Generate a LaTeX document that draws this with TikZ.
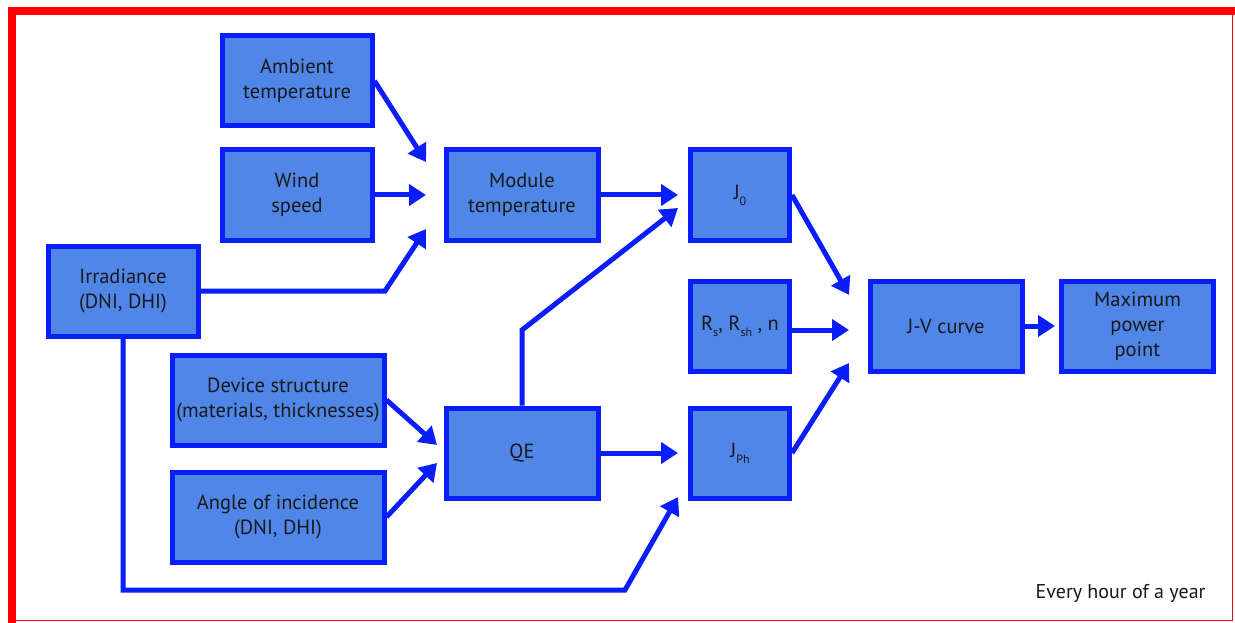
\documentclass[tikz,border=0pt]{standalone}
\usepackage{fontspec}
\setmainfont{PT Sans}
\usetikzlibrary{arrows.meta}
\definecolor{boxfill}{HTML}{4F86E8}
\definecolor{boxline}{HTML}{0A1EFA}
\definecolor{framered}{HTML}{FF0000}
\newcommand\sbs[1]{\raisebox{-0.6ex}{\fontsize{12}{12}\selectfont #1}}
\begin{document}
\begin{tikzpicture}[x=1pt,y=-1pt,
  box/.style={draw=boxline, fill=boxfill, line width=5pt, minimum height=90pt,
    align=center, inner sep=2pt, text=black!90, font=\fontsize{20.5}{25}\selectfont},
  arr/.style={draw=boxline, line width=5pt, -{Triangle[length=17pt,width=21pt]}},
  note/.style={font=\fontsize{20}{24}\selectfont, text=black!90}]
\useasboundingbox (0,0) rectangle (1235,623);
\fill[white] (0,0) rectangle (1235,623);
% frame
\fill[framered] (8,7) rectangle (1235,15);
\fill[framered] (8,7) rectangle (16,623);
\draw[framered, line width=1.2pt] (16,620.5) -- (1232.5,620.5) -- (1232.5,15);
% nodes
\node[box, minimum width=150pt] (amb) at (297,81) {Ambient\\temperature};
\node[box, minimum width=150pt] (wind) at (297,195) {Wind\\speed};
\node[box, minimum width=150pt] (irr) at (123,291) {Irradiance\\(DNI, DHI)};
\node[box, minimum width=152pt] (mod) at (522,195) {Module\\temperature};
\node[box, minimum width=99pt] (j0) at (740,195) {J\sbs{0}};
\node[box, minimum width=99pt] (rs) at (740,326) {R\sbs{s}, R\sbs{sh}\ , n};
\node[box, minimum width=99pt] (jph) at (740,453) {J\sbs{Ph}};
\node[box, minimum width=152pt] (jv) at (946,326) {J-V curve};
\node[box, minimum width=152pt] (mpp) at (1137.5,326) {Maximum\\power\\point};
\node[box, minimum width=212pt] (dev) at (278,400) {Device structure\\(materials, thicknesses)};
\node[box, minimum width=212pt] (aoi) at (278,517) {Angle of incidence\\(DNI, DHI)};
\node[box, minimum width=152pt] (qe) at (522,453) {QE};
\node[note, anchor=base east] (hour) at (1209,598) {Every hour of a year};
% free ends and bends
\coordinate (m1) at (426,162);
\coordinate (m2) at (426,195);
\coordinate (m3) at (426,229);
\coordinate (ib) at (385,291);
\coordinate (qb) at (522,330);
\coordinate (j0a) at (678,195);
\coordinate (j0b) at (678,208);
\coordinate (jpa) at (678,453);
\coordinate (jpb) at (678,497);
\coordinate (c1) at (123,590);
\coordinate (c2) at (625,590);
\coordinate (q1) at (437,445);
\coordinate (q2) at (437,463);
\coordinate (v1) at (849,295);
\coordinate (v2) at (849,330);
\coordinate (v3) at (849,363);
\coordinate (p1) at (1055,326);
% connectors
\draw[arr] (amb.east) -- (m1);
\draw[arr] (wind.east) -- (m2);
\draw[arr] (irr.east) -- (ib) -- (m3);
\draw[arr] (mod.east) -- (j0a);
\draw[arr] (qe.north) -- (qb) -- (j0b);
\draw[arr] (qe.east) -- (jpa);
\draw[arr] (irr.south) -- (c1) -- (c2) -- (jpb);
\draw[arr] (dev.east) -- (q1);
\draw[arr] (aoi.east) -- (q2);
\draw[arr] (j0.east) -- (v1);
\draw[arr] (rs.east |- v2) -- (v2);
\draw[arr] (jph.east) -- (v3);
\draw[arr] (jv.east) -- (p1);
\end{tikzpicture}
\end{document}
